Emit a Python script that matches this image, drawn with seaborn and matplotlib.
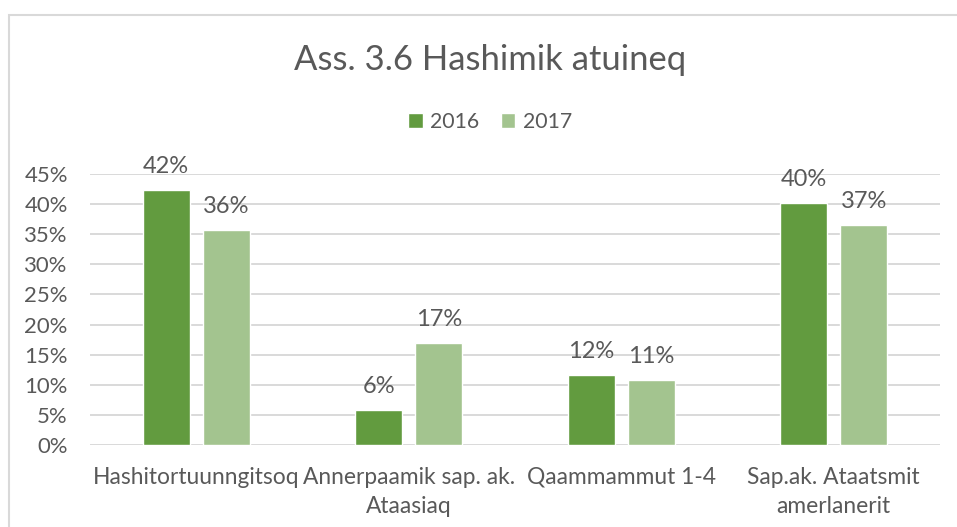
import matplotlib
matplotlib.use("Agg")
import matplotlib.pyplot as plt
import matplotlib.patches as mpatches
from matplotlib.ticker import PercentFormatter
import seaborn as sns
import pandas as pd

categories = ["Hashitortuunngitsoq", "Annerpaamik sap. ak.\nAtaasiaq",
              "Qaammammut 1-4", "Sap.ak. Ataatsmit\namerlanerit"]
years = ["2016", "2017"]
v2016 = [0.424, 0.058, 0.116, 0.402]
v2017 = [0.357, 0.169, 0.108, 0.366]
yticks = [0, 0.05, 0.10, 0.15, 0.20, 0.25, 0.30, 0.35, 0.40, 0.45]
title = "Ass. 3.6 Hashimik atuineq"

df = pd.DataFrame({
    "Category": categories * 2,
    "Year": [years[0]] * 4 + [years[1]] * 4,
    "Value": v2016 + v2017,
})

sns.set_theme(style="white")
plt.rcParams["font.family"] = ["Lato", "DejaVu Sans"]
TXT = "#595959"
colors = ["#629B3F", "#A3C48F"]

W, H = 957, 527
fig = plt.figure(figsize=(W / 100, H / 100), dpi=100)
ax = fig.add_axes([90 / W, 1 - 444.7 / H, 850 / W, (444.7 - 174.3) / H])

sns.barplot(data=df, x="Category", y="Value", hue="Year", order=categories,
            hue_order=years, palette=colors, width=0.565, gap=0.217,
            saturation=1, ax=ax, legend=True)

ax.set_ylim(0, 0.45)
ax.set_xlim(-0.5, 3.5)
ax.set_yticks(yticks)
ax.yaxis.set_major_formatter(PercentFormatter(1.0, decimals=0))
ax.grid(axis="y", color="#D9D9D9", linewidth=1.4)
ax.grid(axis="x", visible=False)
ax.set_axisbelow(True)
for s in ax.spines.values():
    s.set_visible(False)
ax.set_xlabel("")
ax.set_ylabel("")
ax.tick_params(axis="y", length=0, pad=16, labelsize=15.9, labelcolor=TXT)
ax.tick_params(axis="x", length=0, pad=16, labelsize=16.4, labelcolor=TXT)
for lbl in ax.get_xticklabels():
    lbl.set_linespacing(1.45)

for cont in ax.containers:
    vals = [b.get_height() for b in cont]
    ax.bar_label(cont, labels=[f"{v * 100:.0f}%" for v in vals], padding=9.5,
                 fontsize=17, color=TXT)

handles, labels = ax.get_legend_handles_labels()
ax.get_legend().remove()
fig.legend(handles, labels, loc="center", bbox_to_anchor=(0.512, 1 - 122 / H),
           ncol=2, frameon=False, fontsize=15.3, labelcolor=TXT,
           handlelength=0.7, handleheight=0.7, handletextpad=0.35,
           columnspacing=1.0)

fig.text(0.512, 1 - 70 / H, title, ha="center", va="baseline",
         fontsize=24.9, color=TXT)

border = mpatches.Rectangle((9 / W, -0.1), 1.2, 1.1 - 15 / H,
                            transform=fig.transFigure, fill=False,
                            edgecolor="#D9D9D9", linewidth=1.5)
fig.patches.append(border)

fig.savefig("out.png", dpi=100)
